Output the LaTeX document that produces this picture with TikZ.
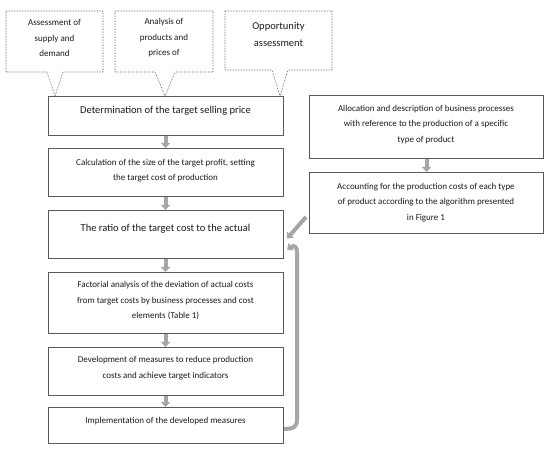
\documentclass[tikz,border=0pt]{standalone}
\usepackage{fontspec}
\setmainfont{Carlito}
\usetikzlibrary{arrows.meta}
\definecolor{arrgray}{HTML}{A6A6A6}
\definecolor{boxgray}{HTML}{595959}
\tikzset{
  mainbox/.style={draw=boxgray, line width=1.1pt, rectangle, inner sep=0pt, anchor=north west},
  callbox/.style={draw=black!75, line width=0.6pt, densely dotted},
  txts/.style={font=\fontsize{9}{15.5}\selectfont, align=center, inner sep=0pt, text=black!90},
  txtl/.style={font=\fontsize{10.5}{17}\selectfont, align=center, inner sep=0pt, text=black!90},
  flowarrow/.style={draw=arrgray, line width=4pt, -{Triangle[length=5pt,width=9pt]}, color=arrgray},
}
\begin{document}
\begin{tikzpicture}[x=1pt,y=-1pt]
\useasboundingbox (0,0) rectangle (552,449);
% callouts
\coordinate (t1) at (55,96);
\coordinate (t2) at (165,96);
\coordinate (t3) at (280,96);
\draw[callbox] (6,11) -- (103,11) -- (103,72) -- (63,72) -- (t1) -- (47,72) -- (6,72) -- cycle;
\draw[callbox] (115,11) -- (213,11) -- (213,72) -- (175,72) -- (t2) -- (155,72) -- (115,72) -- cycle;
\draw[callbox] (225,11) -- (332,11) -- (332,70) -- (288,70) -- (t3) -- (272,70) -- (225,70) -- cycle;
\node[txts] (c1) at (54.5,38) {Assessment of\\supply and\\demand};
\node[txts] (c2) at (164,38) {Analysis of\\products and\\prices of};
\node[txtl] (c3) at (278.5,34.5) {Opportunity\\assessment};
% main boxes
\node[mainbox, minimum width=235pt, minimum height=39pt] (b1) at (48,96) {};
\node[mainbox, minimum width=235pt, minimum height=48pt] (b2) at (48,148) {};
\node[mainbox, minimum width=235pt, minimum height=48pt] (b3) at (48,210) {};
\node[mainbox, minimum width=235pt, minimum height=61pt] (b4) at (48,272) {};
\node[mainbox, minimum width=235pt, minimum height=48pt] (b5) at (48,347) {};
\node[mainbox, minimum width=235pt, minimum height=36pt] (b6) at (48,407) {};
\node[txtl] (l1) at (165.5,110.5) {Determination of the target selling price};
\node[txts] (l2) at (165.5,170.5) {Calculation of the size of the target profit, setting\\the target cost of production};
\node[txtl] (l3) at (165.5,228.5) {The ratio of the target cost to the actual};
\node[txts] (l4) at (165.5,300.5) {Factorial analysis of the deviation of actual costs\\from target costs by business processes and cost\\elements (Table 1)};
\node[txts] (l5) at (165.5,368) {Development of measures to reduce production\\costs and achieve target indicators};
\node[txts] (l6) at (165.5,421) {Implementation of the developed measures};
% right boxes
\node[mainbox, minimum width=234pt, minimum height=63pt] (r1) at (309,95) {};
\node[mainbox, minimum width=234pt, minimum height=61pt] (r2) at (309,172) {};
\node[txts] (lr1) at (426,124.5) {Allocation and description of business processes\\with reference to the production of a specific\\type of product};
\node[txts] (lr2) at (426,202.5) {Accounting for the production costs of each type\\of product according to the algorithm presented\\in Figure 1};
% arrows
\draw[flowarrow] ([xshift=-0.5pt]b1.south) -- ([xshift=-0.5pt]b2.north);
\draw[flowarrow] ([xshift=-0.5pt]b2.south) -- ([xshift=-0.5pt]b3.north);
\draw[flowarrow] ([xshift=-0.5pt]b3.south) -- ([xshift=-0.5pt]b4.north);
\draw[flowarrow] ([xshift=-0.5pt]b4.south) -- ([xshift=-0.5pt]b5.north);
\draw[flowarrow] ([xshift=-0.5pt]b5.south) -- ([xshift=-0.5pt]b6.north);
\draw[flowarrow] (r1.south) -- (r2.north);
\coordinate (ain) at (306,217);
\draw[flowarrow] (ain) -- ([xshift=3pt,yshift=-4pt]b3.east);
\coordinate (lp1) at (297,428);
\coordinate (lp2) at (297,258);
\draw[flowarrow, rounded corners=7pt] ([yshift=-3.5pt]b6.east) -- (lp1) -- (lp2)
  [sharp corners] .. controls (297,249) and (295,244) .. ([xshift=3pt,yshift=-15pt]b3.east);
\end{tikzpicture}
\end{document}
